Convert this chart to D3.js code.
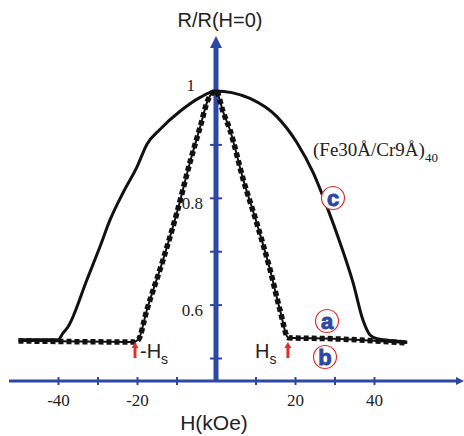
<!DOCTYPE html>
<html>
<head>
<meta charset="utf-8">
<script src="https://cdn.jsdelivr.net/npm/d3@7"></script>
<style>
  body { margin: 0; background: #fff; }
  svg { display: block; }
</style>
</head>
<body>
<div id="chart"></div>
<script>
// curve c (solid)
var cH = [-50, -40, -38.7, -37.5, -32.7, -29.4, -26.8, -23.5, -20, -17.5, -14.2, -9.1, -4, 0, 4, 8.6, 15.4, 20.5, 24.6, 28.1, 31.4, 34.7, 37.2, 39, 40.8, 48.4];
var cR = [0.534, 0.534, 0.547, 0.558, 0.646, 0.708, 0.759, 0.810, 0.858, 0.900, 0.928, 0.962, 0.988, 1.0, 0.997, 0.986, 0.952, 0.903, 0.847, 0.783, 0.716, 0.641, 0.571, 0.543, 0.536, 0.530];

// curves a and b (nearly on top of each other)
var abH = [-50, -21, -19.7, -17.5, -13.4, -9.9, -6.6, -4, -2, 0, 1.8, 3.5, 6.9, 10.3, 13.7, 16.2, 18.3, 29.6, 48.4];
var abR = [0.532, 0.530, 0.534, 0.590, 0.684, 0.772, 0.866, 0.933, 0.984, 1.0, 0.961, 0.928, 0.834, 0.753, 0.665, 0.590, 0.538, 0.536, 0.528];

var xTicks = [-40, -30, -20, -10, 10, 20, 30, 40];
var xLabels = [-40, -20, 20, 40];
var yTicks = [0.5, 0.6, 0.7, 0.8, 0.9, 1];
var yLabels = [0.6, 0.8, 1];
var hsMarks = [-20.5, 18.2];

var width = 464, height = 436;
var blue = "#2d47a5", red = "#e0302a";

var svg = d3.select("#chart").append("svg")
  .attr("width", width)
  .attr("height", height);

var x = d3.scaleLinear().domain([-40, 40]).range([58, 374]);
var y = d3.scaleLinear().domain([0.5, 1]).range([358, 91]);
var x0 = x(0), axisY = 381;

// x axis
var xAxis = svg.append("g")
  .attr("transform", "translate(0," + axisY + ")")
  .call(d3.axisBottom(x).tickValues(xTicks).tickSize(4)
    .tickFormat(d => xLabels.indexOf(d) >= 0 ? d : ""));
xAxis.select(".domain").remove();
xAxis.selectAll(".tick line")
  .attr("y1", -4).attr("y2", 4)
  .attr("stroke", blue).attr("stroke-width", 2);
xAxis.selectAll(".tick text")
  .attr("y", 25).attr("dy", 0)
  .attr("fill", "#222")
  .style("font-family", "'Liberation Serif', 'Times New Roman', serif")
  .style("font-size", "17px");

svg.append("line")
  .attr("x1", 9).attr("x2", 458)
  .attr("y1", axisY).attr("y2", axisY)
  .attr("stroke", blue).attr("stroke-width", 3);
svg.append("path")
  .attr("d", "M456," + (axisY - 4) + "L464," + axisY + "L456," + (axisY + 4) + "Z")
  .attr("fill", blue);

// y axis
var yAxis = svg.append("g")
  .attr("transform", "translate(" + x0 + ",0)")
  .call(d3.axisLeft(y).tickValues(yTicks).tickSize(5)
    .tickFormat(d => yLabels.indexOf(d) >= 0 ? d3.format("")(d) : ""));
yAxis.select(".domain").remove();
yAxis.selectAll(".tick line")
  .attr("x1", -6).attr("x2", 6)
  .attr("stroke", blue).attr("stroke-width", 2);
yAxis.selectAll(".tick text")
  .attr("x", d => d === 1 ? -21 : -13)
  .attr("dy", d => d === 1 ? "-0.05em" : "0.62em")
  .attr("fill", "#222")
  .style("font-family", "'Liberation Serif', 'Times New Roman', serif")
  .style("font-size", "17px");

svg.append("line")
  .attr("x1", x0).attr("x2", x0)
  .attr("y1", axisY).attr("y2", 46)
  .attr("stroke", blue).attr("stroke-width", 5);
svg.append("path")
  .attr("d", "M" + (x0 - 6) + ",48L" + x0 + ",36L" + (x0 + 6) + ",48Z")
  .attr("fill", blue);

// axis titles
svg.append("text")
  .attr("x", 220).attr("y", 27)
  .attr("text-anchor", "middle")
  .style("font-family", "'Liberation Sans', Arial, sans-serif")
  .style("font-size", "20px")
  .attr("fill", "#222")
  .text("R/R(H=0)");
svg.append("text")
  .attr("x", 214).attr("y", 430)
  .attr("text-anchor", "middle")
  .style("font-family", "'Liberation Sans', Arial, sans-serif")
  .style("font-size", "21px")
  .attr("fill", "#222")
  .text("H(kOe)");

// curves
var line = d3.line()
  .x(d => x(d[0]))
  .y(d => y(d[1]))
  .curve(d3.curveMonotoneX);

var cData = cH.map((h, i) => [h, cR[i]]);
var abData = abH.map((h, i) => [h, abR[i]]);

svg.append("path")
  .datum(cData)
  .attr("d", line)
  .attr("fill", "none")
  .attr("stroke", "#111")
  .attr("stroke-width", 3);

// a: thin solid line
svg.append("path")
  .datum(abData)
  .attr("d", line)
  .attr("fill", "none")
  .attr("stroke", "#111")
  .attr("stroke-width", 2);
// b: square dots
svg.append("path")
  .datum(abData)
  .attr("d", line)
  .attr("fill", "none")
  .attr("stroke", "#111")
  .attr("stroke-width", 5.5)
  .attr("stroke-dasharray", "5,3");

// H_s arrows
svg.selectAll(".hs")
  .data(hsMarks)
  .enter().append("g")
  .attr("class", "hs")
  .each(function (d) {
    var g = d3.select(this), hx = x(d);
    g.append("line")
      .attr("x1", hx).attr("x2", hx)
      .attr("y1", 358).attr("y2", 347)
      .attr("stroke", red).attr("stroke-width", 3);
    g.append("path")
      .attr("d", "M" + (hx - 3.5) + ",348L" + hx + ",342L" + (hx + 3.5) + ",348Z")
      .attr("fill", red);
  });

function subLabel(tx, ty, main, sub, size, subSize, family) {
  var t = svg.append("text")
    .attr("x", tx).attr("y", ty)
    .style("font-family", family)
    .style("font-size", size + "px")
    .attr("fill", "#222");
  t.append("tspan").text(main);
  t.append("tspan")
    .attr("dy", subSize * 0.45)
    .style("font-size", subSize + "px")
    .text(sub);
}
var sans = "'Liberation Sans', Arial, sans-serif";
subLabel(140, 358, "-H", "s", 20, 14, sans);
subLabel(255, 358, "H", "s", 20, 14, sans);
subLabel(313, 156, "(Fe30Å/Cr9Å)", "40", 19, 13, "'Liberation Serif', 'Times New Roman', serif");

// circled letters
var tags = [["a", 327, 321], ["b", 325, 357], ["c", 333, 198]];
tags.forEach(function (t) {
  svg.append("circle")
    .attr("cx", t[1]).attr("cy", t[2]).attr("r", 11.5)
    .attr("fill", "#fff")
    .attr("stroke", red).attr("stroke-width", 1.2);
  svg.append("text")
    .attr("x", t[1]).attr("y", t[2])
    .attr("dy", "0.36em")
    .attr("text-anchor", "middle")
    .style("font-family", sans)
    .style("font-weight", "bold")
    .style("font-size", "22px")
    .attr("fill", blue)
    .attr("stroke", blue)
    .attr("stroke-width", 0.9)
    .text(t[0]);
});
</script>
</body>
</html>
